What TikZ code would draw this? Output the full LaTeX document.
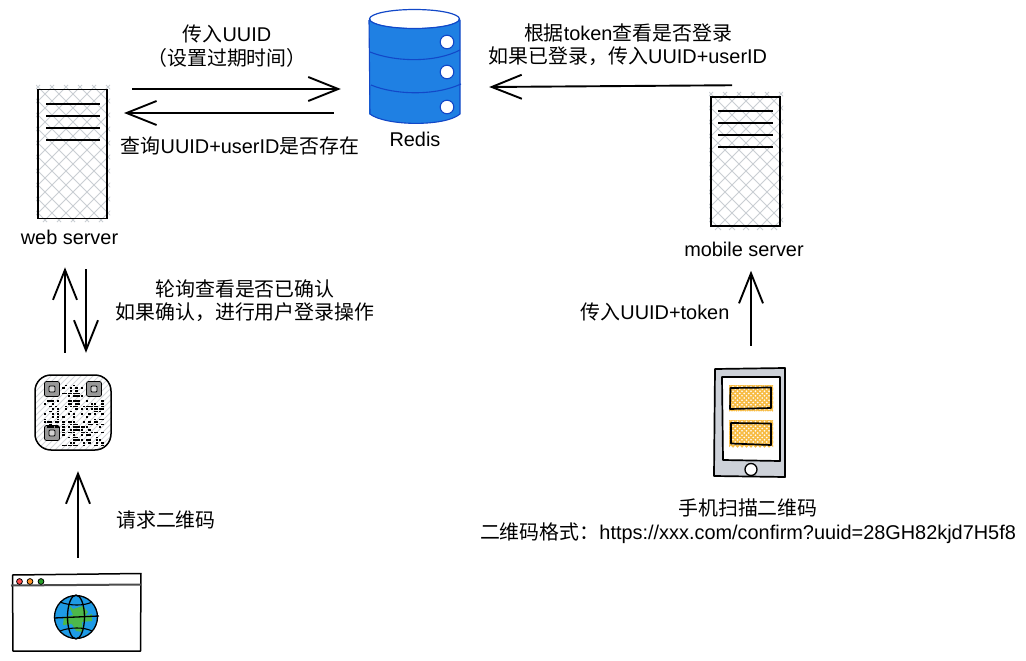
\documentclass[tikz,border=0pt]{standalone}
\usepackage{fontspec}
\setmainfont{Liberation Sans}
\newfontfamily\cjk{Noto Sans CJK SC}
\usetikzlibrary{arrows.meta,calc}
\newcommand{\C}[1]{{\cjk #1}}
\definecolor{hatchgray}{HTML}{C9CED3}
\definecolor{qrgray}{HTML}{D5D8DC}
\definecolor{dbblue}{HTML}{1F80E3}
\definecolor{dbline}{HTML}{1248C8}
\definecolor{phonegray}{HTML}{CDD1D8}
\definecolor{hatchyellow}{HTML}{F7BC45}
\definecolor{globeblue}{HTML}{1E9BE6}
\definecolor{landgreen}{HTML}{4DB84A}
\newcommand{\hatchbox}[7]{% x1 y1 x2 y2 spacing colour width
  \begin{scope}
    \clip (#1,#2) rectangle (#3,#4);
    \foreach \i in {-30,...,30}{
      \draw[#6,line width=#7] (#1+\i*#5,#2) -- ++(#4-#2,#4-#2);
      \draw[#6,line width=#7] (#3-\i*#5,#2) -- ++(#2-#4,#4-#2);
    }
  \end{scope}}
\tikzset{
  arr/.style={-{Straight Barb[length=30pt,width=24pt,line width=1.9pt]},line width=1.9pt,black},
  lbl/.style={font=\fontsize{19.9}{23.5}\selectfont,align=center,inner sep=0pt,text=black},
  serverbox/.style={draw=black,line width=1.5pt,inner sep=0pt,outer sep=0pt,minimum width=69pt,minimum height=128.5pt},
  rack/.style={line width=1.6pt,black},
  sk/.style={line width=1.7pt,black,line join=round,line cap=round}
}
\begin{document}
\begin{tikzpicture}[x=1pt,y=-1pt]
\useasboundingbox (0,0) rectangle (1026,661);
\fill[white] (0,0) rectangle (1026,661);

% web server
\hatchbox{36}{85}{110}{222}{14}{hatchgray}{1pt}
\node[serverbox] (web) at (72.5,154) {};
\foreach \yy in {104,116,128,140} \draw[rack] (46,\yy) -- (100,\yy);
\node[lbl] (webtxt) at (69.5,237) {web server};

% mobile server
\hatchbox{709}{92}{783}{230}{14}{hatchgray}{1pt}
\node[serverbox] (mobile) at (745.5,161.5) {};
\foreach \yy in {111,123,135,147} \draw[rack] (718,\yy) -- (773,\yy);
\node[lbl] (mobiletxt) at (744,249) {mobile server};

% redis
\node[inner sep=0pt,minimum width=91pt,minimum height=108pt] (redis) at (414.5,68) {};
\fill[dbblue] (369,19) -- (369,114) .. controls (385,126) and (445,127) .. (460,114) -- (460,19) -- cycle;
\fill[white] (414.5,19) ellipse [x radius=44,y radius=9];
\draw[dbline,line width=1.2pt] (414.5,19) ellipse [x radius=45,y radius=9.5];
\draw[dbline,line width=1.1pt] (369,20) -- (370,114) .. controls (385,126) and (445,127) .. (460,114) -- (460,20);
\draw[dbline,line width=1.1pt] (370,52) .. controls (395,62) and (435,63) .. (460,50);
\draw[dbline,line width=1.1pt] (371,85) .. controls (395,95) and (435,96) .. (461,84);
\foreach \yy in {42,72,107} \draw[dbline,fill=white,line width=1.1pt] (447,\yy) circle (6.8);
\node[lbl] (redistxt) at (415,139) {Redis};

% QR code
\node[inner sep=0pt,minimum width=76pt,minimum height=75pt] (qr) at (73,412.5) {};
\begin{scope}
  \clip[rounded corners=16pt] (35,375) rectangle (111,450);
  \foreach \i in {-16,...,16}
    \draw[qrgray,line width=0.8pt] (73+\i*6,450) -- ++(75,-75);
\end{scope}
\draw[sk,rounded corners=16pt,line width=1.5pt] (35,375) rectangle (111,450);
\foreach \xx/\yy in {52/389,94/389,52/433}{
  \draw[fill=gray!80,rounded corners=2pt,line width=0.7pt] (\xx-7.5,\yy-7.5) rectangle (\xx+7.5,\yy+7.5);
  \draw[fill=gray!35,rounded corners=1pt,line width=0.9pt] (\xx-3,\yy-3) rectangle (\xx+3,\yy+3);
}
\pgfmathsetseed{4711}
\newcommand{\qrdots}[4]{%
  \foreach \gx in {#1,...,#3}{
    \foreach \gy in {#2,...,#4}{
      \pgfmathparse{rnd<0.48?1:0}
      \ifnum\pgfmathresult=1
        \fill[black] (\gx*2.6,\gy*2.6) rectangle ++(2.1,1.5);
      \fi
    }}}
\qrdots{24}{148}{31}{152}
\qrdots{17}{154}{22}{164}
\qrdots{24}{154}{39}{171}

% browser
\node[inner sep=0pt,minimum width=129pt,minimum height=77pt] (browser) at (76.5,612.5) {};
\draw[sk,line width=1.5pt] (12.5,575) -- (141,573.5) -- (140.5,651) -- (13,651) -- cycle;
\draw[line width=2pt,black!70] (11,585.5) -- (141,584.5);
\foreach \xx/\cc in {19.5/red!70,30/orange!85,41/green!55!black!85}
  \draw[fill=\cc,line width=0.8pt] (\xx,581.5) circle (2.9);
\fill[globeblue] (76,617) circle (21.5);
\fill[landgreen] (68,604) -- (73,609) -- (83,606) -- (88,612) -- (85,616) -- (92,614) -- (92,621) -- (82,622) -- (83,632) -- (76,631) -- (72,624) -- (63,625) -- (64,617) -- (73,615) -- cycle;
\draw[line width=1.3pt] (76,617) circle (21.5);
\draw[line width=1.3pt] (76,617) ellipse [x radius=8.5,y radius=22];
\draw[line width=1.3pt] (54,618) -- (99,616);
\draw[line width=1.1pt] (60,602) .. controls (70,606) and (84,606) .. (92,602);
\draw[line width=1.1pt] (60,631) .. controls (70,627) and (84,627) .. (92,631);

% phone
\node[inner sep=0pt,minimum width=70pt,minimum height=110pt] (phone) at (750,423) {};
\draw[sk,fill=phonegray] (715,369) -- (785,368) -- (785,477) -- (714,476) -- cycle;
\draw[sk,fill=white] (722,377) -- (780,377) -- (780,461) -- (723,460) -- cycle;
\hatchbox{729}{385}{773}{411}{4.5}{hatchyellow}{1.5pt}
\hatchbox{729}{420}{773}{447}{4.5}{hatchyellow}{1.5pt}
\draw[sk] (730.5,388) -- (771,387.5) -- (771,408) -- (730,409) -- cycle;
\draw[sk] (731,423) -- (771,423.5) -- (771,445) -- (731,443.5) -- cycle;
\draw[line width=1.3pt,fill=white] (751,469.5) circle (6);

% labels
\node[lbl] (t1) at (227,46) {\C{传入}UUID\\\C{（设置过期时间）}};
\node[lbl] (t2) at (240,146) {\C{查询}UUID+userID\C{是否存在}};
\node[lbl] (t3) at (628,44.5) {\C{根据}token\C{查看是否登录}\\\C{如果已登录，传入}UUID+userID};
\node[lbl] (t4) at (245,300.5) {\C{轮询查看是否已确认}\\\C{如果确认，进行用户登录操作}};
\node[lbl] (t5) at (166,520) {\C{请求二维码}};
\node[lbl] (t6) at (655,312) {\C{传入}UUID+token};
\node[lbl] (t7) at (748,521) {\C{手机扫描二维码}\\\C{二维码格式：}https://xxx.com/confirm?uuid=28GH82kjd7H5f8};

% connectors
\draw[arr] ([xshift=25pt,yshift=65pt]web.east) -- ([xshift=-28pt,yshift=-21pt]redis.west);
\draw[arr] ([xshift=-35pt,yshift=-45pt]redis.west) -- ([xshift=17pt,yshift=41pt]web.east);
\draw[arr] ([xshift=-13.5pt,yshift=12pt]mobile.north) -- ([xshift=29pt,yshift=-19pt]redis.east);
\draw[arr] ([xshift=-8pt,yshift=22pt]qr.north) -- ([xshift=-7.5pt,yshift=-49pt]web.south);
\draw[arr] ([xshift=13.5pt,yshift=-51pt]web.south) -- ([xshift=13pt,yshift=22pt]qr.north);
\draw[arr] ([xshift=1.5pt,yshift=16pt]browser.north) -- ([xshift=5pt,yshift=-21pt]qr.south);
\draw[arr] ([xshift=1pt,yshift=22pt]phone.north) -- ([xshift=5.5pt,yshift=-45pt]mobile.south);
\end{tikzpicture}
\end{document}
